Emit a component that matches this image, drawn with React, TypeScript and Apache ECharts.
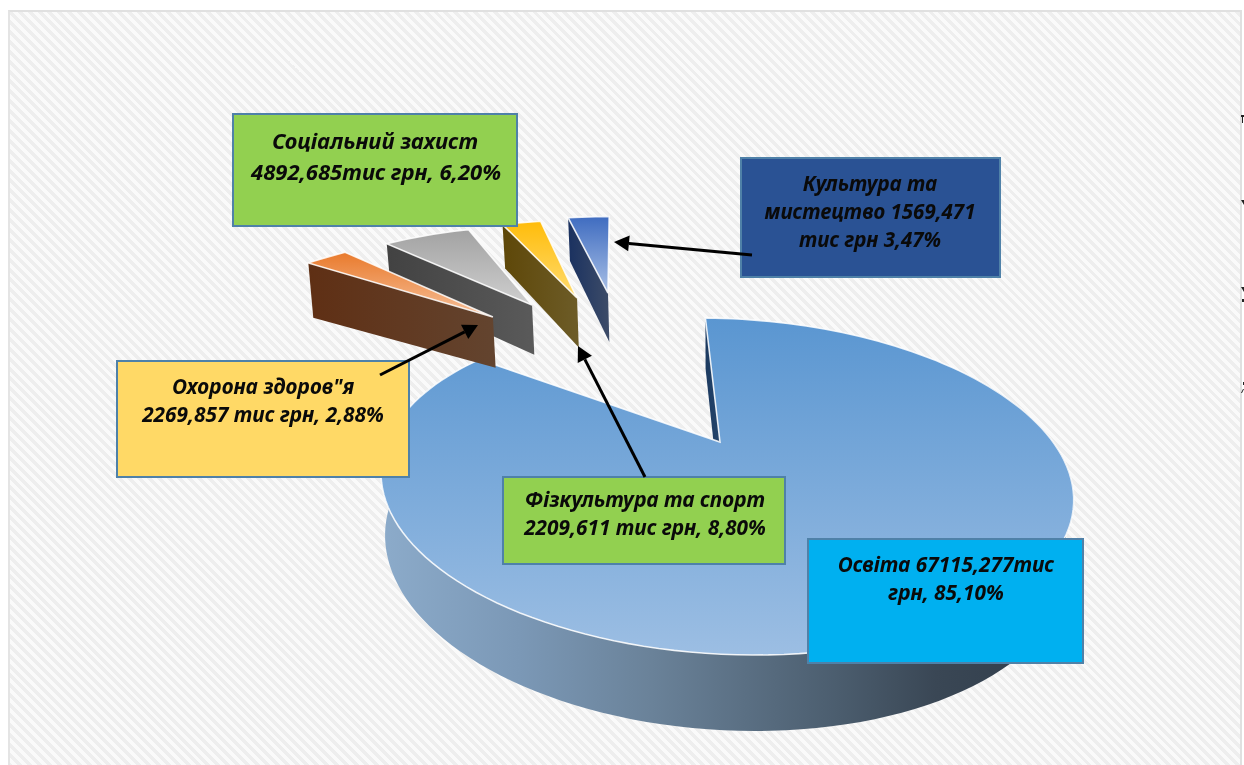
import React, { useEffect, useRef } from "react";
import * as echarts from "echarts";

// Slices, in drawing order (back to front), shares in %
const sliceNames = ["Освіта", "Культура та мистецтво", "Фізкультура та спорт", "Соціальний захист", "Охорона здоров'я"];
const sliceShares = [85.1, 3.02, 2.8, 6.2, 2.88];

// Explosion of each slice on the pie's plane
const explodeX = [0, -0.35, -0.472, -0.645, -0.785];
const explodeY = [0, -1.268, -1.212, -1.136, -1.01];
const radiusScale = [1, 1.05, 1.05, 1.04, 1.06];
const angleShift = [0, -1.6, -2, -1, -1.6];
const rimDropExtra = [0, 0, 0, 0, 8];

const topColors = [
  ["#5a96d1", "#9cbee3"],
  ["#3f6cc0", "#a9c0e6"],
  ["#ffbc0a", "#ffdc70"],
  ["#a2a2a2", "#cfcfcf"],
  ["#e97a2c", "#f6c09a"],
];
const wallColors = [
  ["#1c3a60", "#24456c"],
  ["#1a3160", "#3d4c68"],
  ["#5e4708", "#6d5c28"],
  ["#424242", "#5a5a5a"],
  ["#5f2f14", "#63442f"],
];

const boxes = [
  { x: 233, y: 114, w: 284, h: 112, fill: "#92d050", size: 22, lines: [["Соціальний захист", 375, 140], ["4892,685тис грн, 6,20%", 376, 171]] },
  { x: 741, y: 158, w: 259, h: 119, fill: "#2a5294", size: 20.5, lines: [["Культура та", 870, 183], ["мистецтво 1569,471", 870, 211], ["тис грн 3,47%", 870, 239]] },
  { x: 117, y: 361, w: 292, h: 116, fill: "#ffd966", size: 20.8, lines: [['Охорона здоров"я', 263, 386], ["2269,857 тис грн, 2,88%", 263, 414]] },
  { x: 503, y: 477, w: 282, h: 87, fill: "#92d050", size: 20.8, lines: [["Фізкультура та спорт", 645, 499], ["2209,611 тис грн, 8,80%", 645, 527]] },
  { x: 808, y: 539, w: 275, h: 124, fill: "#00b0f0", size: 20.8, lines: [["Освіта 67115,277тис", 946, 564], ["грн, 85,10%", 946, 592]] },
];

const arrows = [
  [752, 255, 614, 242],
  [380, 375, 478, 325],
  [645, 477, 578, 346],
];

// Scraps of cut-off page content at the right edge
const edgeScraps = [
  [[1241, 115], [1244, 115], [1244, 117], [1243, 117], [1243, 123], [1242, 123], [1242, 117], [1241, 117]],
  [[1241, 200], [1244, 200], [1244, 205]],
  [[1241, 287], [1244, 287], [1244, 292]],
  [[1242, 299], [1244, 299], [1244, 302], [1242, 302]],
  [[1243, 382], [1244, 382], [1244, 385], [1243, 385]],
  [[1241, 393], [1243, 389], [1244, 389], [1242, 393]],
];

const FONT = '"Noto Sans", "Open Sans", sans-serif';
const START_ANGLE = 1.3;

function project(X: number, Y: number, drop = 0, extra = 0): [number, number] {
  const w = 1 - 0.264 * Y;
  let x = 720 + (333 * X + 26 * Y) / w;
  let y = (442 + 40.1 * Y) / w;
  if (drop) {
    y += 44.3 / w + 15.8 + extra;
    x += (720 - x) * 0.012;
  }
  return [x, y];
}

function rim(i: number, deg: number, drop = 0): [number, number] {
  const a = ((deg + angleShift[i]) * Math.PI) / 180;
  const r = radiusScale[i];
  return project(explodeX[i] + r * Math.sin(a), explodeY[i] - r * Math.cos(a), drop, rimDropExtra[i]);
}

function arcRange(from: number, to: number): number[] {
  const n = Math.max(2, Math.ceil(Math.abs(to - from) / 2));
  const out: number[] = [];
  for (let k = 0; k <= n; k++) out.push(from + ((to - from) * k) / n);
  return out;
}

function sliceAngles(): [number, number][] {
  const total = sliceShares.reduce((a, b) => a + b, 0);
  const res: [number, number][] = [];
  let cursor = START_ANGLE;
  sliceShares.forEach((v, i) => {
    const sweep = (v / total) * 360;
    if (i === 0) res.push([START_ANGLE, START_ANGLE + sweep]);
    else {
      res.push([cursor - sweep, cursor]);
      cursor -= sweep;
    }
  });
  return res;
}

const vertical = (c: string[]) => ({ type: "linear", x: 0, y: 0, x2: 0, y2: 1, colorStops: [{ offset: 0, color: c[0] }, { offset: 1, color: c[1] }] });
const horizontal = (c: string[]) => ({ type: "linear", x: 0, y: 0, x2: 1, y2: 0, colorStops: [{ offset: 0, color: c[0] }, { offset: 1, color: c[1] }] });
const bigWall = {
  type: "linear", x: 0, y: 0, x2: 1, y2: 0,
  colorStops: [
    { offset: 0, color: "#8cabca" },
    { offset: 0.2, color: "#7b98b6" },
    { offset: 0.39, color: "#6a8299" },
    { offset: 0.66, color: "#4b5d6e" },
    { offset: 0.8, color: "#3a4755" },
    { offset: 1, color: "#2f3c49" },
  ],
};

export default function App() {
  const ref = useRef<HTMLDivElement>(null);
  useEffect(() => {
    document.body.style.margin = "0";
    const chart = echarts.init(ref.current!, undefined, { renderer: "svg", width: 1244, height: 765 });
    const angles = sliceAngles();

    const renderItem = (params: any) => {
      const i = params.dataIndex;
      const [a0, a1] = angles[i];
      const apex = project(explodeX[i], explodeY[i]);
      const apexLow = project(explodeX[i], explodeY[i], 1);
      const children: any[] = [];
      if (i === 0) {
        const degs = arcRange(60, 300);
        children.push({
          type: "polygon",
          shape: { points: [...degs.map((d) => rim(0, d)), ...degs.slice().reverse().map((d) => rim(0, d, 1))] },
          style: { fill: bigWall },
        });
      }
      children.push({
        type: "polygon",
        shape: { points: [rim(i, a0), apex, apexLow, rim(i, a0, 1)] },
        style: { fill: horizontal(wallColors[i]) },
      });
      const degs = arcRange(a0, a1);
      children.push({
        type: "polygon",
        shape: { points: [apex, ...degs.map((d) => rim(i, d))] },
        style: { fill: vertical(topColors[i]), stroke: "rgba(255,255,255,0.85)", lineWidth: 1.6 },
      });
      return { type: "group", children };
    };

    const graphics: any[] = [];
    arrows.forEach(([x1, y1, x2, y2]) => {
      const t = Math.atan2(y2 - y1, x2 - x1);
      const L = 15, W = 8;
      const bx = x2 - L * Math.cos(t), by = y2 - L * Math.sin(t);
      graphics.push({ type: "line", z: 12, shape: { x1, y1, x2: bx, y2: by }, style: { stroke: "#000", lineWidth: 3 } });
      graphics.push({
        type: "polygon", z: 12,
        shape: { points: [[x2, y2], [bx - W * Math.sin(t), by + W * Math.cos(t)], [bx + W * Math.sin(t), by - W * Math.cos(t)]] },
        style: { fill: "#000" },
      });
    });
    boxes.forEach((b) => {
      graphics.push({ type: "rect", z: 10, shape: { x: b.x, y: b.y, width: b.w, height: b.h }, style: { fill: b.fill, stroke: "#4f81a8", lineWidth: 2 } });
      b.lines.forEach(([t, x, y]) => {
        graphics.push({
          type: "text", z: 11, x: x as number, y: y as number,
          style: { text: t as string, fill: "#0a0a0a", font: `italic bold ${b.size}px ${FONT}`, textAlign: "center", textVerticalAlign: "middle" },
        });
      });
    });
    edgeScraps.forEach((points) => {
      graphics.push({ type: "polygon", z: 11, shape: { points }, style: { fill: "#222" } });
    });

    chart.setOption({
      animation: false,
      backgroundColor: "transparent",
      series: [{
        type: "custom",
        coordinateSystem: "none",
        silent: true,
        renderItem,
        data: sliceShares.map((v, i) => ({ name: sliceNames[i], value: v })),
      }],
      graphic: { elements: graphics },
    });
    return () => chart.dispose();
  }, []);

  return (
    <div style={{ position: "absolute", left: 0, top: 0, width: 1244, height: 765, background: "#fff", overflow: "hidden" }}>
      <div
        style={{
          position: "absolute", left: 8, top: 10, width: 1230, height: 755,
          borderTop: "2px solid #e0e0e0", borderLeft: "2px solid #e4e4e4", borderRight: "2px solid #e0e0e0",
          background: "repeating-linear-gradient(45deg, #eeeeee 0px, #eeeeee 3.5px, #fafafa 3.5px, #fafafa 7px)",
          filter: "blur(0.6px)",
        }}
      />
      <div ref={ref} style={{ position: "absolute", left: 0, top: 0, width: 1244, height: 765, filter: "blur(0.6px)" }} />
    </div>
  );
}
